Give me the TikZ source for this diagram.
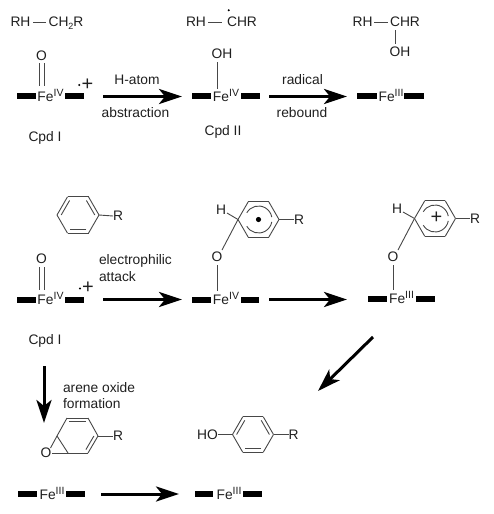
\documentclass[tikz,border=0pt]{standalone}
\usepackage{fontspec}
\setmainfont{Liberation Sans}
\usetikzlibrary{arrows.meta,calc}
\tikzset{
  lbl/.style={inner sep=0pt,outer sep=0pt,font=\fontsize{13.8}{15}\selectfont,text=black!88},
  plus/.style={lbl,font=\fontsize{20}{20}\selectfont},
  bond/.style={line width=0.9pt,draw=black!72},
  hembar/.style={line width=6pt,draw=black},
  rxn/.style={line width=3pt,draw=black,-{Stealth[length=23pt,width=15pt,inset=6pt]}},
}
\newcommand{\supr}[1]{\raisebox{4.6pt}{\fontsize{10.5}{11}\selectfont #1}}
% name, Fe centre x, y, oxidation state, left bar start, left bar end, right bar start, right bar end
\newcommand{\heme}[8]{%
  \node[lbl,anchor=base] (#1) at ($(#2,#3)+(0,5)$) {Fe\supr{#4}};
  \coordinate (#1la) at (#5,#3); \coordinate (#1lb) at (#6,#3);
  \coordinate (#1ra) at (#7,#3); \coordinate (#1rb) at (#8,#3);
  \draw[hembar] (#1la) -- (#1lb);
  \draw[hembar] (#1ra) -- (#1rb);
}
% name, cx, cy, r
\newcommand{\ringpts}[4]{%
  \coordinate (#1c) at (#2,#3);
  \foreach \i/\a in {1/0,2/60,3/120,4/180,5/240,6/300}{
    \coordinate (#1\i) at ($(#1c)+(\a:#4)$);
  }
}
\newcommand{\ringedge}[3]{\draw[bond] (#1#2) -- (#1#3);}
\newcommand{\inner}[3]{\draw[bond] ($(#1#2)!.2!(#1c)$) -- ($(#1#3)!.2!(#1c)$);}
\begin{document}
\begin{tikzpicture}[x=1pt,y=-1pt]
\useasboundingbox (0,0) rectangle (494,514);
% Row 1 substrates
\node[lbl] (a1) at (20.5,22) {RH};
\node[lbl,anchor=base] (a2) at (66,27) {CH\raisebox{-2.5pt}{\fontsize{9}{10}\selectfont 2}R};
\coordinate (a1e) at (33,22); \coordinate (a2e) at (46,22);
\draw[bond] (a1e) -- (a2e);
\node[lbl] (b1) at (196,22) {RH};
\node[lbl] (b2) at (242,22) {CHR};
\coordinate (b1e) at (208,22); \coordinate (b2e) at (222,22);
\draw[bond] (b1e) -- (b2e);
\fill (228.7,10.3) coordinate (bdot) circle (1.1);
\node[lbl] (c1) at (362.5,22) {RH};
\node[lbl] (c2) at (405,22) {CHR};
\coordinate (c1e) at (374,22); \coordinate (c2e) at (387.5,22);
\draw[bond] (c1e) -- (c2e);
\node[lbl] (c3) at (400,52) {OH};
\coordinate (c2b) at (395,30); \coordinate (c3b) at (395,44);
\draw[bond] (c2b) -- (c3b);
% Row 1 iron
\heme{fa}{50.5}{96}{IV}{17}{36}{65}{84}
\node[lbl] (oa) at (41.5,56) {O};
\draw[bond] (39.5,63) -- (39.5,86);
\draw[bond] (44.3,63) -- (44.3,86);
\fill (79.3,85) coordinate (rca) circle (1.1);
\node[plus] (pa) at (87.5,84.5) {+};
\node[lbl] (ca) at (45,138) {Cpd I};
\heme{fb}{226}{96}{IV}{192}{211}{241}{260}
\node[lbl] (ob) at (222,54) {OH};
\coordinate (obb) at (217,62); \coordinate (fbt) at (217,89);
\draw[bond] (obb) -- (fbt);
\node[lbl] (cb) at (223,132) {Cpd II};
\heme{fc}{391}{96}{III}{357}{377}{404}{424}
% Row 1 arrows
\coordinate (r1a) at (103,96.5); \coordinate (r1b) at (182,96.5);
\draw[rxn] (r1a) -- (r1b);
\node[lbl] (t1) at (137,80) {H-atom};
\node[lbl] (t2) at (135.5,113) {abstraction};
\coordinate (r2a) at (269,96.5); \coordinate (r2b) at (347,96.5);
\draw[rxn] (r2a) -- (r2b);
\node[lbl] (t3) at (302.5,80) {radical};
\node[lbl] (t4) at (302,113) {rebound};
% Row 2 left
\ringpts{ra}{78}{215}{21}
\foreach \p/\q in {1/2,2/3,3/4,4/5,5/6,6/1}{\ringedge{ra}{\p}{\q}}
\inner{ra}{2}{3}\inner{ra}{4}{5}\inner{ra}{6}{1}
\node[lbl] (rar) at (118,216) {R};
\draw[bond] (ra1) -- (rar.west);
\heme{fd}{50.5}{299.5}{IV}{17}{36}{65}{84}
\node[lbl] (od) at (41.5,259) {O};
\draw[bond] (39.5,267) -- (39.5,290);
\draw[bond] (44.3,267) -- (44.3,290);
\fill (80,288.5) coordinate (rcd) circle (1.1);
\node[plus] (pd) at (88,288) {+};
\node[lbl] (cd) at (45,341) {Cpd I};
\coordinate (r3a) at (103,299.5); \coordinate (r3b) at (182,299.5);
\draw[rxn] (r3a) -- (r3b);
\node[lbl,anchor=west] (t5) at (99,260.5) {electrophilic};
\node[lbl,anchor=west] (t6) at (99,276.5) {attack};
% Row 2 middle
\ringpts{rb}{258.5}{219.5}{20.5}
\foreach \p/\q in {1/2,2/3,3/4,4/5,5/6,6/1}{\ringedge{rb}{\p}{\q}}
\draw[bond] ($(rbc)+(150:13.5)$) arc[start angle=150,end angle=10,radius=13.5];
\draw[bond] ($(rbc)+(210:13.5)$) arc[start angle=210,end angle=350,radius=13.5];
\fill (rbc) circle (2.6);
\node[lbl] (hb) at (221,210) {H};
\node[lbl] (obr) at (217,257) {O};
\node[lbl] (rbr) at (299,219.5) {R};
\draw[bond] (rb1) -- (rbr.west);
\draw[bond] (rb4) -- (227,213);
\draw[bond] (rb4) -- (222,250);
\coordinate (obt) at (217,265); \coordinate (fet) at (217,291);
\draw[bond] (obt) -- (fet);
\heme{fe}{226}{299.5}{IV}{192}{211}{241}{259}
\coordinate (r4a) at (269,299.5); \coordinate (r4b) at (347,299.5);
\draw[rxn] (r4a) -- (r4b);
% Row 2 right
\ringpts{rc}{435}{218.5}{20.5}
\foreach \p/\q in {1/2,2/3,3/4,4/5,5/6,6/1}{\ringedge{rc}{\p}{\q}}
\draw[bond] ($(rcc)+(150:13.5)$) arc[start angle=150,end angle=10,radius=13.5];
\draw[bond] ($(rcc)+(210:13.5)$) arc[start angle=210,end angle=350,radius=13.5];
\node[plus] (pr) at (436.5,218) {+};
\node[lbl] (hc) at (397,209) {H};
\node[lbl] (oc) at (393,257) {O};
\node[lbl] (rcr) at (475,218.5) {R};
\draw[bond] (rc1) -- (rcr.west);
\draw[bond] (rc4) -- (403,212);
\draw[bond] (rc4) -- (398,250);
\coordinate (oct) at (393,265); \coordinate (fct) at (393,290);
\draw[bond] (oct) -- (fct);
\heme{ff}{401.5}{298.5}{III}{368}{387}{416}{435}
% diagonal and vertical arrows
\coordinate (r5a) at (373,337); \coordinate (r5b) at (318,391);
\draw[rxn] (r5a) -- (r5b);
\coordinate (r6a) at (44,366); \coordinate (r6b) at (44,423);
\draw[rxn] (r6a) -- (r6b);
\node[lbl,anchor=west] (t7) at (63,388) {arene oxide};
\node[lbl,anchor=west] (t8) at (63,403.5) {formation};
% Arene oxide
\coordinate (x1) at (98,436); \coordinate (x2) at (88,418); \coordinate (x3) at (67,418);
\coordinate (x4) at (57,436); \coordinate (x5) at (68,453); \coordinate (x6) at (88,453);
\coordinate (xc) at (77.5,436);
\foreach \p/\q in {1/2,2/3,3/4,4/5,5/6,6/1}{\draw[bond] (x\p) -- (x\q);}
\draw[bond] ($(x2)!.2!(xc)$) -- ($(x3)!.2!(xc)$);
\draw[bond] ($(x6)!.2!(xc)$) -- ($(x1)!.2!(xc)$);
\node[lbl] (xo) at (46,453) {O};
\coordinate (xoa) at (50.5,448); \coordinate (xob) at (52,453);
\draw[bond] (xoa) -- (x4);
\draw[bond] (xob) -- (x5);
\node[lbl] (xr) at (118,436) {R};
\draw[bond] (x1) -- (xr.west);
% Phenol
\ringpts{rd}{253}{434.5}{20.5}
\foreach \p/\q in {1/2,2/3,3/4,4/5,5/6,6/1}{\ringedge{rd}{\p}{\q}}
\inner{rd}{2}{3}\inner{rd}{4}{5}\inner{rd}{6}{1}
\node[lbl] (ho) at (207.5,434.5) {HO};
\node[lbl] (dr) at (293.5,434.5) {R};
\draw[bond] (ho.east) -- (rd4);
\draw[bond] (rd1) -- (dr.west);
% Bottom iron
\heme{fg}{52}{494}{III}{18}{37}{66}{85}
\heme{fh}{229}{494}{III}{195}{213}{243}{262}
\coordinate (r7a) at (101,494); \coordinate (r7b) at (179,494);
\draw[rxn] (r7a) -- (r7b);
\end{tikzpicture}
\end{document}
